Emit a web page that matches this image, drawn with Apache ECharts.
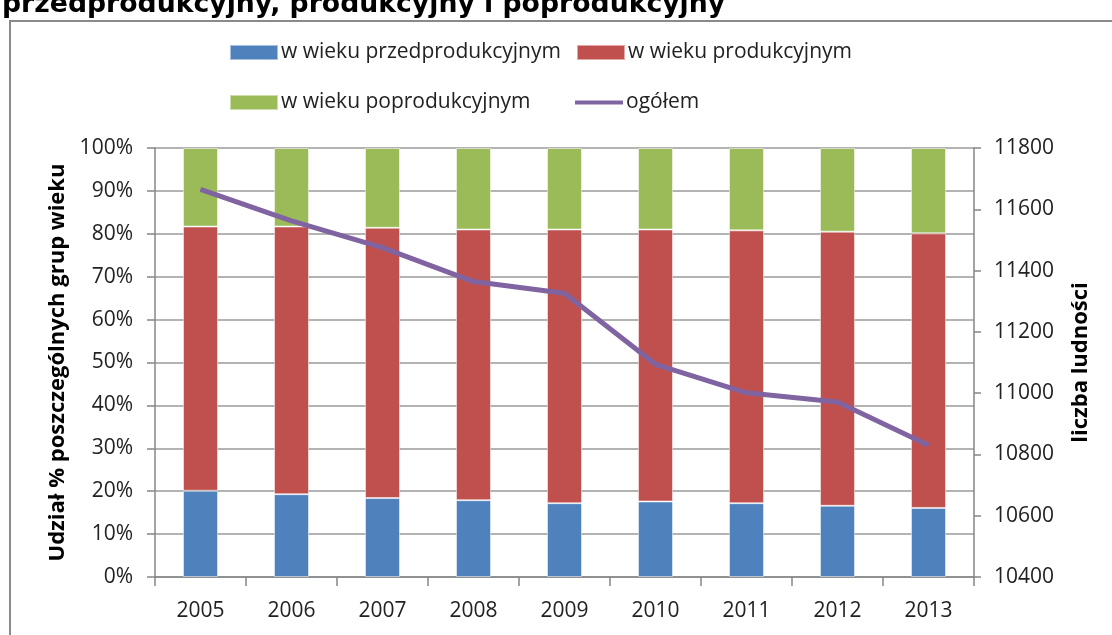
<!DOCTYPE html>
<html>
<head>
<meta charset="utf-8">
<script src="https://cdn.jsdelivr.net/npm/echarts@6/dist/echarts.min.js"></script>
<style>
  html, body { margin: 0; padding: 0; background: #fff; }
  #chart { width: 1112px; height: 635px; }
</style>
</head>
<body>
<div id="chart"></div>
<script>
// lata i udział grup wieku (%)
const years = ['2005', '2006', '2007', '2008', '2009', '2010', '2011', '2012', '2013'];
const przedprod = [20.1, 19.3, 18.4, 17.9, 17.2, 17.6, 17.2, 16.6, 16.1];
const prod = [61.6, 62.4, 63.0, 63.1, 63.8, 63.4, 63.6, 63.9, 64.0];
const poprod = [18.3, 18.3, 18.6, 19.0, 19.0, 19.0, 19.2, 19.5, 19.9];
// liczba ludności ogółem
const ogolem = [11665, 11562, 11475, 11364, 11326, 11094, 11001, 10971, 10830];

const FONT = '"Open Sans", sans-serif';
const names = ['w wieku przedprodukcyjnym', 'w wieku produkcyjnym', 'w wieku poprodukcyjnym', 'ogółem'];

const legendItem = (name, left, top, icon, h) => ({
  data: [{ name: name, icon: icon }],
  left: left,
  top: top,
  itemWidth: 48,
  itemHeight: h,
  itemGap: 0,
  padding: 0,
  selectedMode: false,
  textStyle: { fontFamily: FONT, fontSize: 21, color: '#222', padding: [0, 0, 0, -2] }
});

const chart = echarts.init(document.getElementById('chart'));
chart.setOption({
  animation: false,
  color: ['#4f81bd', '#c0504d', '#9bbb59', '#8064a2'],
  graphic: [
    {
      type: 'rect',
      shape: { x: 10, y: 21, width: 1200, height: 700 },
      style: { fill: 'none', stroke: '#8a8a8a', lineWidth: 2 }
    },
    {
      type: 'text',
      left: 2,
      top: -8,
      style: {
        text: 'przedprodukcyjny, produkcyjny i poprodukcyjny',
        font: 'bold 26.7px "DejaVu Sans", sans-serif',
        fill: '#000'
      }
    }
  ],
  legend: [
    legendItem(names[0], 229, 42, 'rect', 15),
    legendItem(names[1], 576, 42, 'rect', 15),
    legendItem(names[2], 229, 92, 'rect', 15),
    legendItem(names[3], 575, 92, 'rect', 4)
  ],
  grid: { left: 155, right: 138, top: 148, bottom: 58 },
  xAxis: {
    type: 'category',
    data: years,
    axisLine: { lineStyle: { color: '#868686', width: 1.5 } },
    axisTick: { show: true, length: 9, lineStyle: { color: '#868686', width: 1.5 } },
    axisLabel: { fontFamily: FONT, fontSize: 21, color: '#222', margin: 24 }
  },
  yAxis: [
    {
      type: 'value',
      min: 0,
      max: 100,
      interval: 10,
      name: 'Udział % poszczególnych grup wieku',
      nameLocation: 'middle',
      nameGap: 86,
      nameTextStyle: { fontFamily: FONT, fontSize: 22, fontWeight: 'bold', color: '#000' },
      axisLine: { show: true, lineStyle: { color: '#868686', width: 1.5 } },
      axisTick: { show: true, length: 8, lineStyle: { color: '#868686', width: 1.5 } },
      axisLabel: { fontFamily: FONT, fontSize: 21, color: '#222', margin: 22, formatter: '{value}%' },
      splitLine: { lineStyle: { color: '#b3b3b3', width: 2 } }
    },
    {
      type: 'value',
      min: 10400,
      max: 11800,
      interval: 200,
      name: 'liczba ludności',
      nameLocation: 'middle',
      nameGap: 96,
      nameRotate: 90,
      nameTextStyle: { fontFamily: FONT, fontSize: 22, fontWeight: 'bold', color: '#000' },
      axisLine: { show: true, lineStyle: { color: '#868686', width: 1.5 } },
      axisTick: { show: true, length: 7, lineStyle: { color: '#868686', width: 1.5 } },
      axisLabel: { fontFamily: FONT, fontSize: 21, color: '#222', margin: 20, formatter: (v) => String(v) },
      splitLine: { show: false }
    }
  ],
  series: [
    {
      name: names[0], type: 'bar', stack: 'udzial', data: przedprod, barWidth: 35,
      itemStyle: { borderColor: 'rgba(255,255,255,0.5)', borderWidth: 1 }
    },
    {
      name: names[1], type: 'bar', stack: 'udzial', data: prod, barWidth: 35,
      itemStyle: { borderColor: 'rgba(255,255,255,0.5)', borderWidth: 1 }
    },
    {
      name: names[2], type: 'bar', stack: 'udzial', data: poprod, barWidth: 35,
      itemStyle: { borderColor: 'rgba(255,255,255,0.5)', borderWidth: 1 }
    },
    {
      name: names[3], type: 'line', yAxisIndex: 1, data: ogolem,
      symbol: 'none', lineStyle: { width: 5, color: '#8064a2' }, z: 5
    }
  ]
});
window.addEventListener('resize', () => chart.resize());
</script>
</body>
</html>
